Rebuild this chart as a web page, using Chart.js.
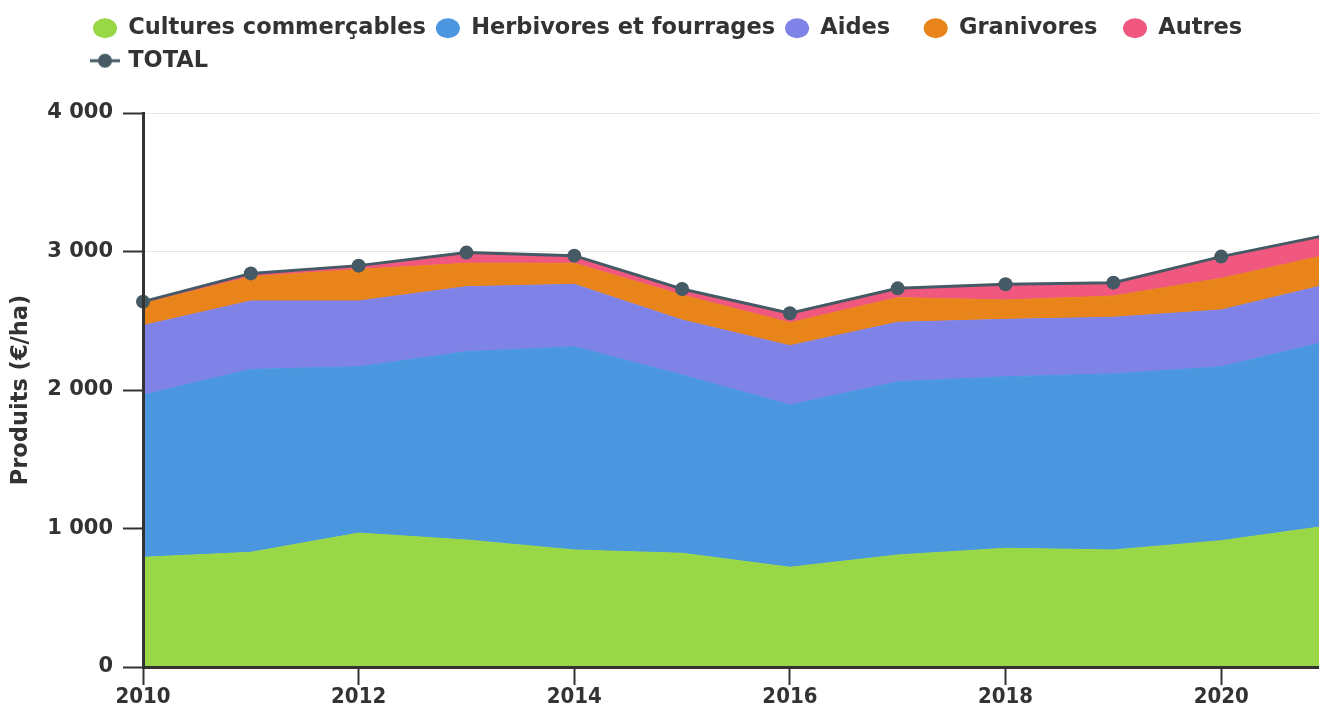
<!DOCTYPE html>
<html>
<head>
<meta charset="utf-8">
<script src="https://cdn.jsdelivr.net/npm/chart.js@4.4.1/dist/chart.umd.min.js"></script>
<style>
  html, body { margin: 0; padding: 0; background: #ffffff; overflow: hidden; }
  #wrap { position: relative; width: 1343px; height: 707px; }
</style>
</head>
<body>
<div id="wrap"><canvas id="c"></canvas></div>
<script>
// ---- data (€/ha) ----
const years = ['2010','2011','2012','2013','2014','2015','2016','2017','2018','2019','2020','2021'];
const cultures   = [792, 828, 967, 917, 845, 821, 720, 809, 857, 845, 912, 1020];
const herbivores = [1172, 1321, 1201, 1360, 1468, 1287, 1172, 1251, 1239, 1271, 1256, 1334];
const aides      = [501, 494, 475, 469, 450, 397, 428, 429, 414, 409, 410, 411];
const granivores = [160, 175, 228, 169, 152, 181, 166, 178, 140, 154, 228, 214];
const autres     = [13, 24, 27, 77, 55, 43, 68, 67, 113, 96, 157, 143];
const total      = [2638, 2842, 2898, 2992, 2970, 2729, 2554, 2734, 2763, 2775, 2963, 3122];
const yTicks     = [0, 1000, 2000, 3000, 4000];
const seriesNames = ['Cultures commerçables', 'Herbivores et fourrages', 'Aides', 'Granivores', 'Autres', 'TOTAL'];
const yTitle = 'Produits (€/ha)';

const colors = ['#99d747', '#4a97e0', '#7f83e7', '#e8841a', '#f0587f'];
const totalColor = '#455a64';
const textColor = '#333333';
const FAMILY = "'DejaVu Sans', Verdana, sans-serif";

function area(label, data, color, fill) {
  return {
    label, data, fill,
    backgroundColor: color, borderColor: color, borderWidth: 1,
    pointRadius: 0, pointHoverRadius: 0, pointStyle: 'circle',
    tension: 0, order: 1
  };
}

// legend icon for TOTAL (line + dot)
const totalIcon = document.createElement('canvas');
totalIcon.width = 30; totalIcon.height = 16;
(function () {
  const g = totalIcon.getContext('2d');
  g.strokeStyle = totalColor; g.lineWidth = 3;
  g.beginPath(); g.moveTo(0, 8); g.lineTo(30, 8); g.stroke();
  g.fillStyle = totalColor;
  g.beginPath(); g.arc(15, 8, 7, 0, Math.PI * 2); g.fill();
})();

const legendSpacing = { 'Aides': '   ', 'Granivores': '  ' };
const LEGEND_START = 93;

const layoutPlugin = {
  id: 'layoutTweaks',
  beforeLayout(chart) {
    const lg = chart.legend;
    if (lg && !lg._patched) {
      const orig = lg.fit;
      lg.fit = function () {
        const mw = this.maxWidth;
        this.maxWidth = mw - 80;      // wrap TOTAL onto a second row
        orig.call(this);
        this.maxWidth = mw;
        this.height = 106;
      };
      lg._patched = true;
    }
  },
  beforeDraw(chart) {
    const lg = chart.legend;
    if (lg && lg.lineWidths && lg.lineWidths.length > 1) {
      const w0 = lg.lineWidths[0];
      for (let i = 1; i < lg.lineWidths.length; i++) lg.lineWidths[i] = w0;
      const pad = lg.options.labels.padding;
      lg.left = 0;
      lg.right = 2 * LEGEND_START - pad + w0;
    }
  }
};

new Chart(document.getElementById('c'), {
  type: 'line',
  data: {
    labels: years,
    datasets: [
      area(seriesNames[0], cultures, colors[0], 'origin'),
      area(seriesNames[1], herbivores, colors[1], '-1'),
      area(seriesNames[2], aides, colors[2], '-1'),
      area(seriesNames[3], granivores, colors[3], '-1'),
      area(seriesNames[4], autres, colors[4], '-1'),
      {
        label: seriesNames[5], data: total, stack: 'total', fill: false,
        borderColor: totalColor, backgroundColor: totalColor, borderWidth: 3,
        pointRadius: 7, pointHoverRadius: 7, pointBorderWidth: 0,
        pointBackgroundColor: totalColor, pointStyle: 'circle',
        tension: 0, order: -1, clip: false
      }
    ]
  },
  options: {
    responsive: true,
    maintainAspectRatio: false,
    animation: false,
    devicePixelRatio: 1,
    layout: { padding: { top: 7, left: 0, right: 0, bottom: 0 } },
    interaction: { mode: 'index', intersect: false },
    plugins: {
      tooltip: { enabled: false },
      legend: {
        position: 'top',
        align: 'center',
        labels: {
          usePointStyle: true,
          pointStyleWidth: 24,
          boxHeight: 14,
          padding: 10,
          color: textColor,
          font: { family: FAMILY, size: 22.5, weight: 'bold' },
          sort: (a, b) => a.datasetIndex - b.datasetIndex,
          generateLabels(chart) {
            const items = Chart.defaults.plugins.legend.labels.generateLabels(chart);
            items.forEach(it => {
              it.lineWidth = 0;
              it.strokeStyle = 'rgba(0,0,0,0)';
              if (it.datasetIndex === 5) it.pointStyle = totalIcon;
              if (legendSpacing[it.text]) it.text = it.text + legendSpacing[it.text];
            });
            return items;
          }
        }
      }
    },
    scales: {
      x: {
        type: 'category',
        offset: false,
        afterFit(axis) { axis.height = 40; axis.paddingRight = 14; axis.paddingLeft = 0; },
        grid: {
          drawOnChartArea: false, drawTicks: true,
          tickLength: 18, tickColor: '#333333', tickWidth: 2
        },
        border: { display: true, color: '#333333', width: 3, z: 1 },
        ticks: {
          autoSkip: false, maxRotation: 0, padding: -1,
          color: textColor,
          font: { family: FAMILY, size: 22, weight: 'bold condensed' },
          callback(value, index) { return index % 2 === 0 ? this.getLabelForValue(value) : null; }
        }
      },
      y: {
        stacked: true,
        min: 0, max: 4000,
        afterFit(axis) { axis.width = 143; },
        afterBuildTicks(axis) { axis.ticks = yTicks.map(v => ({ value: v })); },
        grid: {
          color: '#e6e6e6', lineWidth: 1,
          drawTicks: true, tickLength: 20, tickColor: '#333333', tickWidth: 2
        },
        border: { display: true, color: '#333333', width: 3, z: 1 },
        ticks: {
          padding: 10, color: textColor,
          font: { family: FAMILY, size: 21, weight: 'bold' },
          callback(v) { return String(v).replace(/\B(?=(\d{3})+(?!\d))/g, ' '); }
        },
        title: {
          display: true, text: yTitle, color: textColor,
          padding: { top: 8, bottom: 0 },
          font: { family: FAMILY, size: 22.5, weight: 'bold' }
        }
      }
    }
  },
  plugins: [layoutPlugin]
});
</script>
</body>
</html>
